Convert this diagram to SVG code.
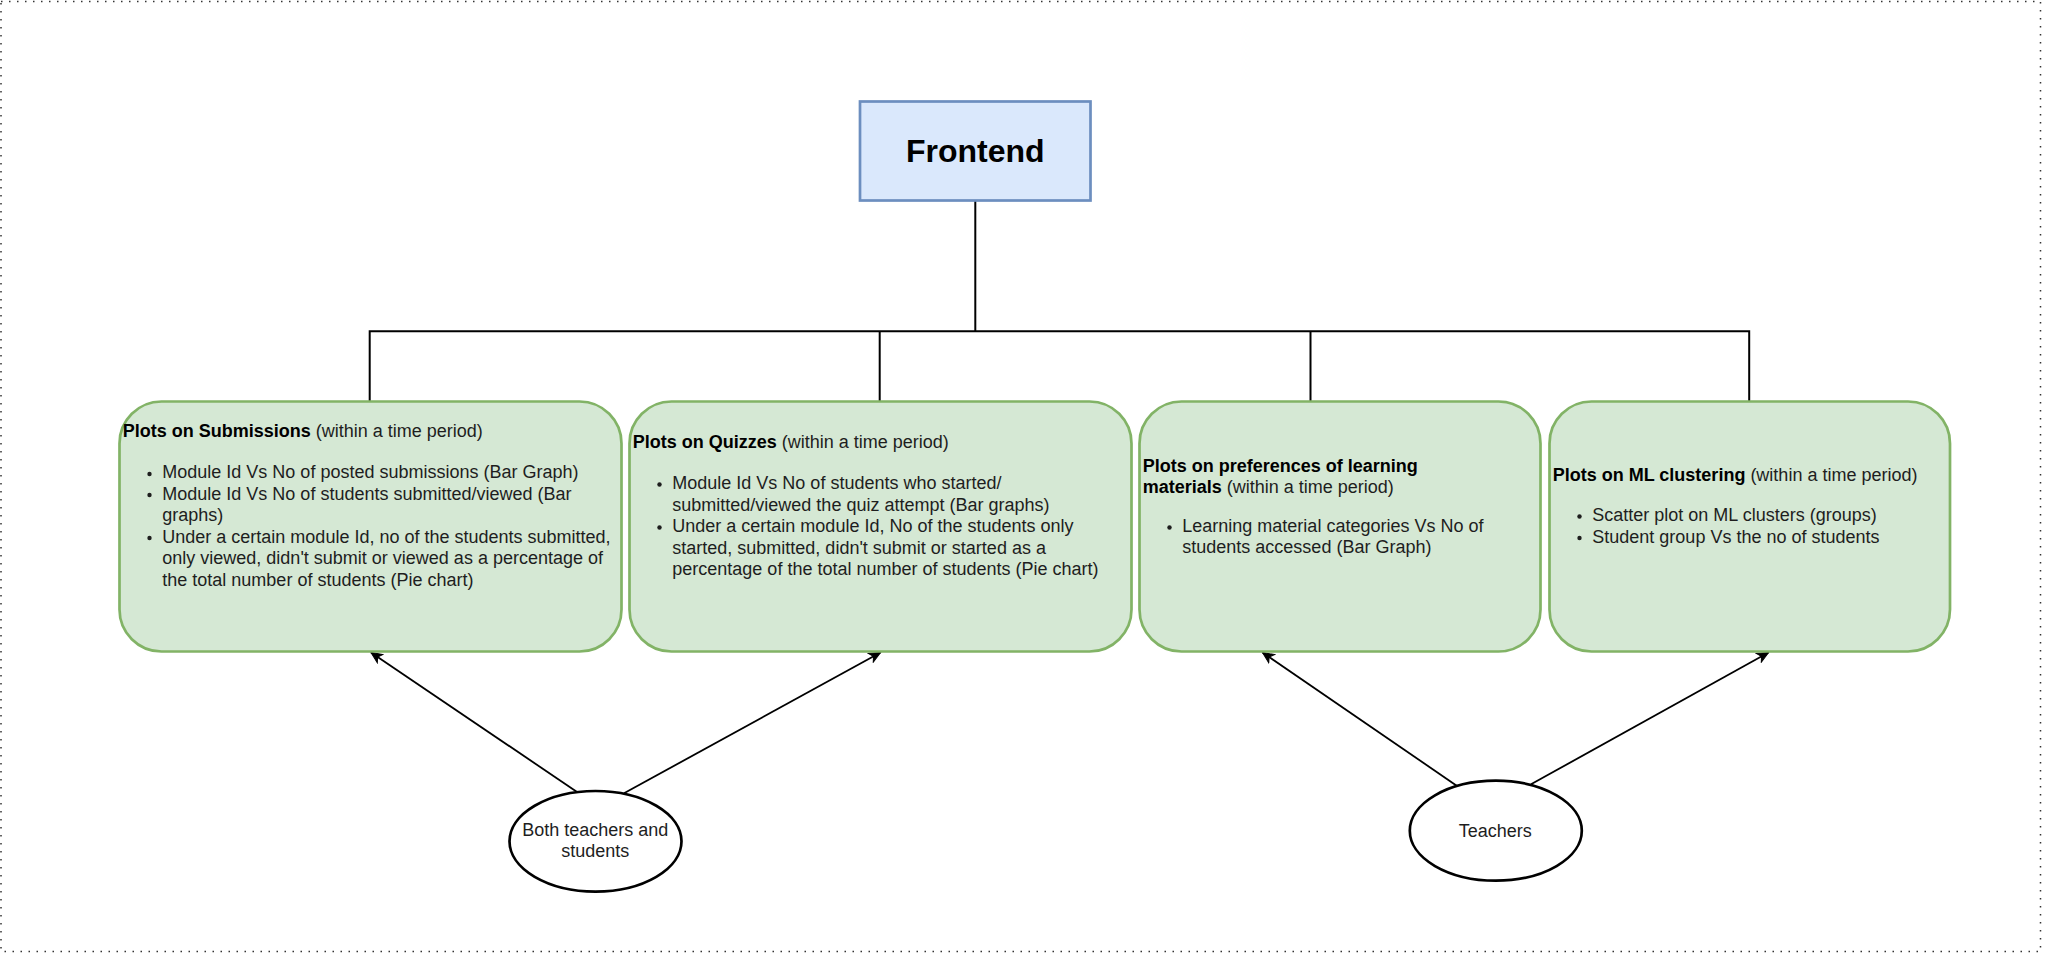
<svg xmlns="http://www.w3.org/2000/svg" width="2047" height="956" viewBox="0 0 2047 956">
<style>
  .t { font-family: "Liberation Sans", Arial, sans-serif; font-size: 18px; fill: #1e1e1e; }
  .b { font-weight: bold; fill: #000; }
  .card { fill: #d5e8d4; stroke: #82b366; stroke-width: 2.7; }
  .ell { fill: #ffffff; stroke: #000; stroke-width: 2.7; }
  .wire { fill: none; stroke: #000; stroke-width: 2; }
  .arr { fill: none; stroke: #000; stroke-width: 1.8; marker-end: url(#head); }
  .dot { fill: #1e1e1e; }
</style>
<defs>
  <marker id="head" markerUnits="userSpaceOnUse" markerWidth="14" markerHeight="12" viewBox="-12 -6 14 12" refX="0" refY="0" orient="auto">
    <path d="M0,0 L-11,-5 L-8,0 L-11,5 Z" fill="#000" stroke="#000" stroke-width="1"/>
  </marker>
</defs>
<rect x="1" y="1.5" width="2039.5" height="950" fill="#fff" stroke="#333" stroke-width="1.5" stroke-dasharray="1.5 6.5"/>

<g id="connectors">
  <path class="wire" d="M975.3,201 V331.3"/>
  <path class="wire" d="M369.7,401 V331.3 H1749.2 V401"/>
  <path class="wire" d="M879.7,331.3 V401"/>
  <path class="wire" d="M1310.5,331.3 V401"/>
  <path class="arr" d="M576.7,791.7 L371,652.5"/>
  <path class="arr" d="M624,793.3 L880.5,652.5"/>
  <path class="arr" d="M1456.7,785.7 L1262.5,652.5"/>
  <path class="arr" d="M1531,784.3 L1768.5,652.5"/>
</g>

<g id="frontend">
  <rect x="860" y="101.5" width="230.5" height="99" fill="#dae8fc" stroke="#6c8ebf" stroke-width="2.7"/>
  <text class="t b" x="975.3" y="161.7" text-anchor="middle" style="font-size:32px">Frontend</text>
</g>

<g id="submissions">
  <rect class="card" x="119.5" y="401.5" width="502" height="250" rx="42" ry="42"/>
  <text class="t" x="122.7" y="437.3"><tspan class="b">Plots on Submissions</tspan> (within a time period)</text>
  <circle class="dot" cx="149.5" cy="474" r="2.2"/>
  <text class="t" x="162.3" y="478.3">Module Id Vs No of posted submissions (Bar Graph)</text>
  <circle class="dot" cx="149.5" cy="495" r="2.2"/>
  <text class="t" x="162.3" y="499.5">Module Id Vs No of students submitted/viewed (Bar</text>
  <text class="t" x="162.3" y="521">graphs)</text>
  <circle class="dot" cx="149.5" cy="538" r="2.2"/>
  <text class="t" x="162.3" y="542.5">Under a certain module Id, no of the students submitted,</text>
  <text class="t" x="162.3" y="564">only viewed, didn't submit or viewed as a percentage of</text>
  <text class="t" x="162.3" y="585.5">the total number of students (Pie chart)</text>
</g>

<g id="quizzes">
  <rect class="card" x="629.5" y="401.5" width="502" height="250" rx="42" ry="42"/>
  <text class="t" x="632.7" y="448.3"><tspan class="b">Plots on Quizzes</tspan> (within a time period)</text>
  <circle class="dot" cx="659.5" cy="484.5" r="2.2"/>
  <text class="t" x="672.3" y="489">Module Id Vs No of students who started/</text>
  <text class="t" x="672.3" y="510.5">submitted/viewed the quiz attempt (Bar graphs)</text>
  <circle class="dot" cx="659.5" cy="527.5" r="2.2"/>
  <text class="t" x="672.3" y="532">Under a certain module Id, No of the students only</text>
  <text class="t" x="672.3" y="553.5">started, submitted, didn't submit or started as a</text>
  <text class="t" x="672.3" y="575">percentage of the total number of students (Pie chart)</text>
</g>

<g id="learning">
  <rect class="card" x="1139.5" y="401.5" width="401" height="250" rx="42" ry="42"/>
  <text class="t b" x="1142.7" y="471.5">Plots on preferences of learning</text>
  <text class="t" x="1142.7" y="492.5"><tspan class="b">materials</tspan> (within a time period)</text>
  <circle class="dot" cx="1169.5" cy="527.5" r="2.2"/>
  <text class="t" x="1182.3" y="532">Learning material categories Vs No of</text>
  <text class="t" x="1182.3" y="553">students accessed (Bar Graph)</text>
</g>

<g id="clustering">
  <rect class="card" x="1549.5" y="401.5" width="400.5" height="250" rx="42" ry="42"/>
  <text class="t" x="1552.7" y="481"><tspan class="b">Plots on ML clustering</tspan> (within a time period)</text>
  <circle class="dot" cx="1579.5" cy="516.5" r="2.2"/>
  <text class="t" x="1592.3" y="521">Scatter plot on ML clusters (groups)</text>
  <circle class="dot" cx="1579.5" cy="538" r="2.2"/>
  <text class="t" x="1592.3" y="542.5">Student group Vs the no of students</text>
</g>

<g id="both">
  <ellipse class="ell" cx="595.5" cy="841.3" rx="86" ry="50.3"/>
  <text class="t" x="595.3" y="835.5" text-anchor="middle">Both teachers and</text>
  <text class="t" x="595.3" y="857" text-anchor="middle">students</text>
</g>

<g id="teachers">
  <ellipse class="ell" cx="1495.8" cy="830.7" rx="86" ry="50"/>
  <text class="t" x="1495.3" y="837" text-anchor="middle">Teachers</text>
</g>
</svg>
